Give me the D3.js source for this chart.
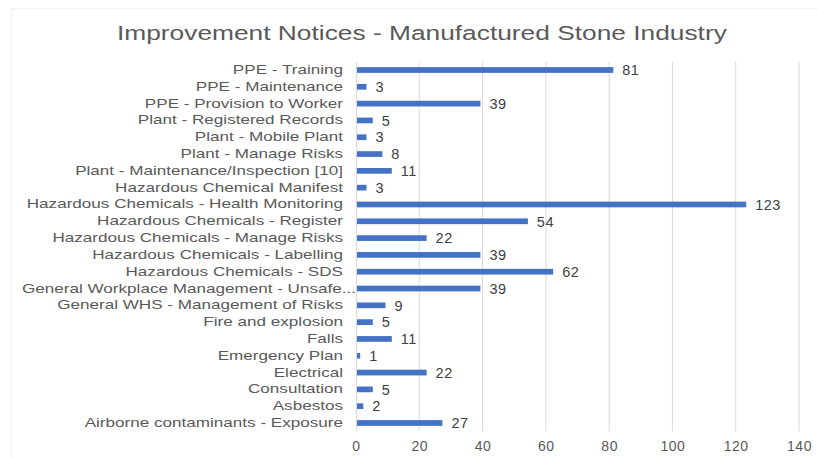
<!DOCTYPE html>
<html>
<head>
<meta charset="utf-8">
<script src="https://cdn.jsdelivr.net/npm/d3@7"></script>
<style>
html,body{margin:0;padding:0;background:#fff;}
svg{display:block;font-family:"Liberation Sans",Arial,sans-serif;}
</style>
</head>
<body>
<svg id="chart" width="817" height="457"></svg>
<script>
const title = "Improvement Notices - Manufactured Stone Industry";
const categories = [
  "PPE - Training",
  "PPE - Maintenance",
  "PPE - Provision to Worker",
  "Plant - Registered Records",
  "Plant - Mobile Plant",
  "Plant - Manage Risks",
  "Plant - Maintenance/Inspection [10]",
  "Hazardous Chemical Manifest",
  "Hazardous Chemicals - Health Monitoring",
  "Hazardous Chemicals - Register",
  "Hazardous Chemicals - Manage Risks",
  "Hazardous Chemicals - Labelling",
  "Hazardous Chemicals - SDS",
  "General Workplace Management - Unsafe...",
  "General WHS - Management of Risks",
  "Fire and explosion",
  "Falls",
  "Emergency Plan",
  "Electrical",
  "Consultation",
  "Asbestos",
  "Airborne contaminants - Exposure"
];
const values = [81, 3, 39, 5, 3, 8, 11, 3, 123, 54, 22, 39, 62, 39, 9, 5, 11, 1, 22, 5, 2, 27];
const xTicks = [0, 20, 40, 60, 80, 100, 120, 140];

(function(){
const svg = d3.select("#chart");
const pLeft = 356, pRight = 799, pTop = 61.6, pBottom = 431.4;

// faint outer frame
svg.append("rect").attr("x", 11.5).attr("y", 8.5).attr("width", 810).attr("height", 460)
  .attr("fill", "none").attr("stroke", "#f0f0f0");

const x = d3.scaleLinear().domain([0, 140]).range([pLeft, pRight]);
const y = d3.scaleBand().domain(categories).range([pTop, pBottom])
  .paddingInner(0.66).paddingOuter(0.33);

// gridlines
svg.append("g").selectAll("line").data(xTicks.slice(1)).join("line")
  .attr("x1", d => x(d)).attr("x2", d => x(d))
  .attr("y1", pTop).attr("y2", pBottom)
  .attr("stroke", "#d9d9d9").attr("stroke-width", 1);

// x axis tick labels
const xAxis = d3.axisBottom(x).tickValues(xTicks).tickSize(0).tickPadding(10);
const gx = svg.append("g").attr("transform", `translate(0,${pBottom})`).call(xAxis);
gx.select(".domain").remove();
gx.selectAll("text").attr("font-size", 14).attr("fill", "#595959")
  .attr("letter-spacing", "0.5px")
  .attr("font-family", "Liberation Sans, Arial, sans-serif");

// y axis line
svg.append("line").attr("x1", pLeft + 0.5).attr("x2", pLeft + 0.5)
  .attr("y1", pTop).attr("y2", pBottom).attr("stroke", "#d9d9d9");

// category labels
const yAxis = d3.axisLeft(y).tickSize(0).tickPadding(13);
const gy = svg.append("g").attr("transform", `translate(${pLeft},0)`).call(yAxis);
gy.select(".domain").remove();
const labels = gy.selectAll("text").attr("font-size", 12.5).attr("fill", "#595959")
  .attr("font-family", "Liberation Sans, Arial, sans-serif");
let kLab = 1;
labels.each(function(d){
  if (d === "Plant - Maintenance/Inspection [10]") kLab = 268 / this.getComputedTextLength();
});
labels.each(function(d){
  const t = d3.select(this);
  let xx = +t.attr("x");
  if (d.endsWith("...")) xx += 13;
  t.attr("x", xx / kLab).attr("transform", `scale(${kLab},1)`);
});

// bars
svg.append("g").selectAll("rect").data(values).join("rect")
  .attr("x", x(0) + 1)
  .attr("y", (d, i) => y(categories[i]))
  .attr("width", d => x(d) - x(0))
  .attr("height", y.bandwidth())
  .attr("fill", "#4472C4");

// value labels
svg.append("g").selectAll("text").data(values).join("text")
  .attr("x", d => x(d) + 10)
  .attr("y", (d, i) => y(categories[i]) + y.bandwidth() / 2)
  .attr("dy", "0.36em")
  .attr("font-size", 14.5)
  .attr("letter-spacing", "0.5px")
  .attr("fill", "#404040")
  .text(d => d);

// title
const tt = svg.append("text").attr("x", 0).attr("y", 40)
  .attr("font-size", 19.5).attr("fill", "#595959")
  .text(title);
const tw = tt.node().getComputedTextLength();
const kT = 610 / tw;
tt.attr("transform", `translate(117,0) scale(${kT},1)`);
})();
</script>
</body>
</html>
